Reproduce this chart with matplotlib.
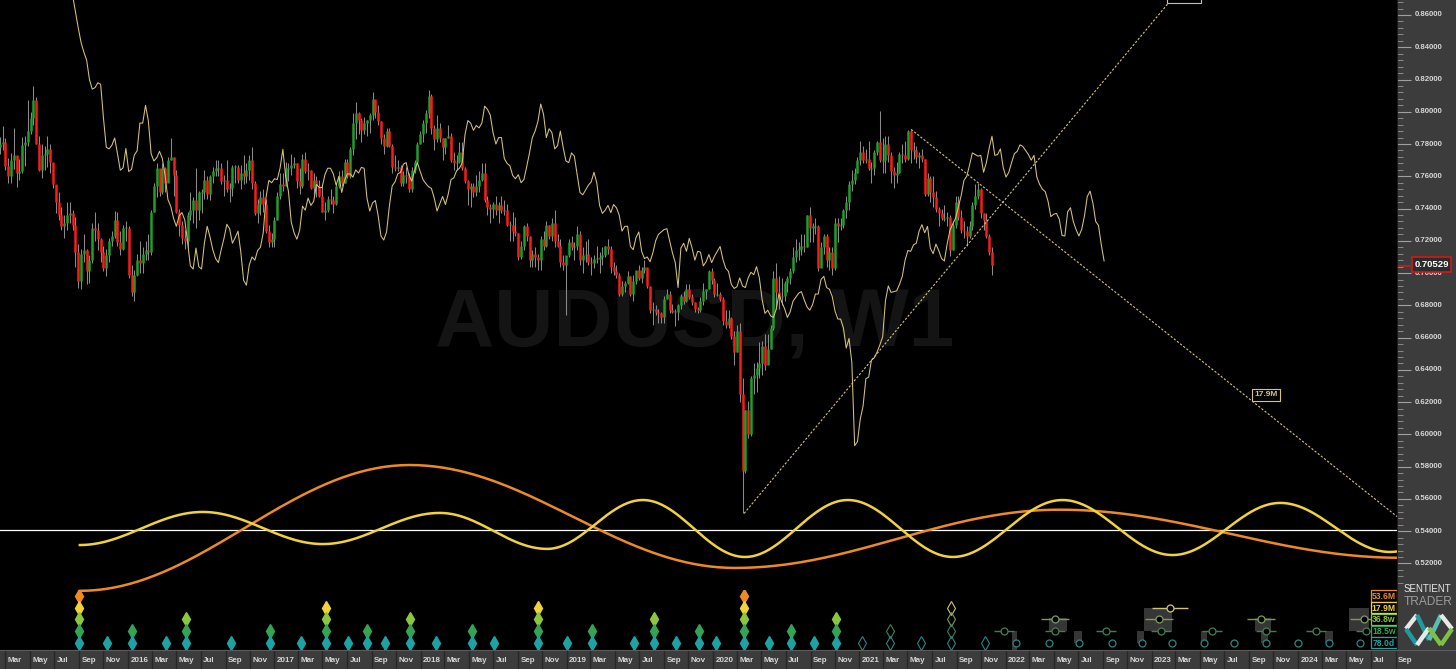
import numpy as np
import pandas as pd
import matplotlib
matplotlib.use("Agg")
import matplotlib.pyplot as plt
import matplotlib.dates as mdates
import matplotlib.transforms as mtransforms
from matplotlib.patches import Rectangle

plt.rcParams["font.family"] = ["Liberation Sans", "DejaVu Sans"]

# ---- AUDUSD weekly bars (bar time = Sunday open), values in pips ----
first_bar = "2015-02-15"
first_open = 7780
highs = [7845, 7910, 7840, 7715, 7745, 7900, 7725, 7705, 7845, 7850, 8070, 8000, 8160, 8090, 7850, 7800, 7790, 7850, 7800, 7680,
         7540, 7500, 7410, 7360, 7440, 7440, 7390, 7350, 7180, 7150, 7240, 7150, 7110, 7310, 7380, 7310, 7220, 7170, 7150, 7220,
         7260, 7385, 7380, 7260, 7300, 7320, 7290, 7050, 7020, 7120, 7200, 7160, 7200, 7240, 7390, 7560, 7680, 7640, 7680, 7660,
         7720, 7835, 7720, 7640, 7400, 7320, 7270, 7380, 7500, 7470, 7650, 7510, 7520, 7640, 7600, 7610, 7660, 7700, 7700, 7680,
         7610, 7700, 7560, 7670, 7670, 7670, 7670, 7730, 7680, 7730, 7780, 7570, 7460, 7510, 7520, 7460, 7300, 7250, 7350, 7500,
         7620, 7620, 7690, 7680, 7740, 7720, 7680, 7650, 7740, 7750, 7680, 7640, 7620, 7600, 7580, 7550, 7440, 7480, 7520, 7480,
         7560, 7630, 7640, 7710, 7710, 7780, 7990, 8060, 8000, 7960, 7970, 7950, 7990, 8120, 8070, 8040, 7940, 7860, 7900, 7900,
         7800, 7730, 7700, 7670, 7630, 7660, 7620, 7660, 7700, 7810, 7880, 7950, 8010, 8136, 8110, 7920, 7980, 7930, 7840, 7840,
         7920, 7870, 7750, 7730, 7810, 7810, 7660, 7580, 7560, 7560, 7610, 7630, 7680, 7680, 7480, 7430, 7440, 7480, 7440, 7480,
         7450, 7430, 7320, 7380, 7350, 7250, 7200, 7300, 7310, 7230, 7140, 7160, 7120, 7230, 7260, 7320, 7300, 7340, 7390, 7240,
         7210, 7110, 7080, 7210, 7230, 7190, 7290, 7260, 7160, 7200, 7210, 7100, 7110, 7170, 7130, 7160, 7170, 7210, 7170, 7070,
         7050, 7000, 6950, 6950, 7010, 6980, 6990, 7010, 7050, 7040, 7080, 7030, 6920, 6820, 6800, 6780, 6760, 6860, 6900, 6890,
         6810, 6780, 6810, 6870, 6890, 6930, 6930, 6870, 6820, 6790, 6850, 6940, 6900, 7020, 7030, 6970, 6940, 6880, 6850, 6770,
         6770, 6730, 6640, 6680, 6690, 6350, 6150, 6210, 6360, 6440, 6450, 6570, 6580, 6620, 6620, 6680, 7010, 7060, 6980, 6970,
         6950, 6980, 7030, 7160, 7210, 7190, 7240, 7240, 7360, 7410, 7310, 7340, 7300, 7190, 7240, 7240, 7160, 7160, 7340, 7340,
         7340, 7400, 7480, 7570, 7640, 7650, 7720, 7820, 7790, 7770, 7820, 7690, 7760, 7820, 8007, 7840, 7850, 7850, 7750, 7660,
         7690, 7750, 7800, 7820, 7890, 7890, 7810, 7790, 7750, 7770, 7710, 7620, 7600, 7600, 7510, 7410, 7400, 7420, 7380, 7360,
         7320, 7480, 7480, 7390, 7320, 7290, 7320, 7440, 7550, 7556, 7530, 7370, 7370, 7240, 7160]
lows = [7740, 7765, 7640, 7560, 7560, 7645, 7535, 7580, 7620, 7665, 7790, 7860, 7920, 7800, 7630, 7590, 7640, 7660, 7620, 7530,
        7370, 7330, 7270, 7220, 7270, 7310, 7270, 7040, 6910, 6900, 7070, 6930, 6940, 7060, 7200, 7140, 7070, 7010, 6980, 7070,
        7170, 7220, 7170, 7110, 7140, 7200, 6970, 6860, 6830, 6980, 7000, 7000, 7080, 7080, 7110, 7380, 7470, 7480, 7490, 7500,
        7580, 7700, 7480, 7370, 7230, 7180, 7150, 7150, 7330, 7310, 7280, 7330, 7370, 7460, 7460, 7450, 7560, 7600, 7600, 7550,
        7480, 7500, 7440, 7480, 7560, 7560, 7520, 7550, 7560, 7580, 7520, 7360, 7310, 7360, 7380, 7250, 7160, 7160, 7160, 7330,
        7460, 7510, 7540, 7570, 7610, 7650, 7530, 7490, 7530, 7620, 7580, 7520, 7490, 7470, 7470, 7380, 7330, 7380, 7430, 7370,
        7420, 7530, 7540, 7560, 7590, 7590, 7730, 7830, 7860, 7810, 7860, 7850, 7870, 7950, 7960, 7920, 7800, 7740, 7780, 7780,
        7620, 7630, 7630, 7540, 7540, 7560, 7500, 7500, 7620, 7680, 7800, 7810, 7870, 7960, 7860, 7760, 7810, 7810, 7700, 7740,
        7840, 7690, 7640, 7640, 7680, 7640, 7560, 7420, 7410, 7470, 7480, 7500, 7570, 7440, 7360, 7310, 7340, 7360, 7310, 7370,
        7360, 7290, 7200, 7200, 7230, 7080, 7090, 7140, 7200, 7040, 7040, 7040, 7020, 7020, 7140, 7160, 7210, 7200, 7160, 7160,
        7040, 7020, 6740, 7100, 7140, 7080, 7140, 7050, 7000, 7070, 7050, 6990, 7030, 7060, 7000, 7050, 7100, 7120, 7000, 6990,
        6970, 6860, 6860, 6880, 6930, 6860, 6830, 6930, 6960, 6940, 7000, 6910, 6750, 6680, 6740, 6690, 6690, 6690, 6840, 6750,
        6750, 6670, 6710, 6780, 6810, 6820, 6840, 6800, 6760, 6750, 6760, 6800, 6840, 6900, 6930, 6850, 6860, 6830, 6680, 6660,
        6660, 6590, 6430, 6510, 6200, 5510, 5760, 5980, 5990, 6250, 6260, 6350, 6370, 6400, 6490, 6530, 6650, 6780, 6780, 6800,
        6830, 6880, 6930, 7000, 7070, 7080, 7110, 7130, 7160, 7190, 7190, 7240, 7010, 7050, 7120, 7040, 7020, 6990, 7020, 7190,
        7270, 7280, 7340, 7390, 7510, 7550, 7620, 7670, 7680, 7680, 7640, 7560, 7610, 7730, 7690, 7620, 7620, 7690, 7560, 7530,
        7560, 7620, 7680, 7690, 7700, 7680, 7710, 7680, 7650, 7690, 7480, 7480, 7440, 7410, 7380, 7290, 7330, 7320, 7290, 7106,
        7140, 7280, 7330, 7250, 7220, 7170, 7220, 7270, 7400, 7460, 7340, 7270, 7220, 7110, 6990]
closes = [7800, 7815, 7665, 7600, 7700, 7735, 7620, 7630, 7795, 7810, 7880, 7960, 8070, 7800, 7640, 7730, 7740, 7770, 7690, 7550,
          7440, 7360, 7290, 7310, 7360, 7370, 7300, 7130, 6950, 7120, 7140, 7010, 7080, 7280, 7270, 7210, 7130, 7030, 7110, 7200,
          7230, 7330, 7190, 7150, 7280, 7280, 6990, 6880, 6990, 7080, 7060, 7120, 7140, 7130, 7380, 7540, 7650, 7500, 7650, 7560,
          7700, 7720, 7610, 7380, 7300, 7220, 7200, 7360, 7390, 7450, 7390, 7500, 7500, 7580, 7490, 7600, 7630, 7650, 7650, 7570,
          7580, 7520, 7530, 7660, 7660, 7580, 7620, 7600, 7640, 7700, 7560, 7370, 7430, 7470, 7430, 7260, 7190, 7210, 7330, 7480,
          7550, 7540, 7650, 7650, 7670, 7680, 7570, 7540, 7710, 7630, 7640, 7530, 7580, 7540, 7480, 7380, 7390, 7460, 7450, 7430,
          7540, 7600, 7560, 7690, 7600, 7770, 7930, 7990, 7950, 7890, 7930, 7950, 7980, 8080, 8000, 7940, 7840, 7790, 7880, 7790,
          7660, 7650, 7660, 7560, 7610, 7600, 7520, 7640, 7690, 7800, 7860, 7930, 7990, 8100, 7900, 7830, 7900, 7840, 7780, 7840,
          7850, 7700, 7680, 7690, 7750, 7650, 7570, 7520, 7540, 7500, 7540, 7580, 7620, 7450, 7410, 7400, 7430, 7390, 7420, 7390,
          7390, 7300, 7300, 7260, 7250, 7100, 7170, 7290, 7230, 7080, 7120, 7100, 7080, 7210, 7170, 7300, 7230, 7310, 7200, 7170,
          7070, 7050, 7110, 7190, 7160, 7170, 7240, 7080, 7110, 7120, 7070, 7060, 7090, 7090, 7100, 7110, 7170, 7150, 7040, 7010,
          6990, 6870, 6920, 6940, 6980, 6870, 6950, 7020, 6970, 7020, 7040, 6920, 6770, 6780, 6760, 6750, 6730, 6840, 6870, 6770,
          6760, 6760, 6800, 6860, 6830, 6900, 6850, 6820, 6780, 6770, 6830, 6890, 6900, 7010, 6960, 6870, 6870, 6840, 6700, 6680,
          6720, 6610, 6510, 6640, 6250, 5770, 6150, 6000, 6350, 6370, 6410, 6440, 6550, 6430, 6530, 6660, 6970, 6880, 6850, 6860,
          6940, 6970, 7010, 7100, 7140, 7150, 7170, 7160, 7360, 7280, 7290, 7290, 7030, 7160, 7230, 7080, 7130, 7030, 7310, 7290,
          7300, 7390, 7440, 7550, 7580, 7620, 7700, 7750, 7700, 7710, 7650, 7650, 7750, 7810, 7700, 7700, 7800, 7730, 7630, 7610,
          7620, 7740, 7730, 7710, 7880, 7760, 7760, 7720, 7730, 7710, 7490, 7590, 7500, 7470, 7400, 7370, 7340, 7340, 7350, 7140,
          7300, 7440, 7350, 7270, 7260, 7230, 7290, 7420, 7480, 7520, 7370, 7330, 7230, 7130, 7053]
# median price of the 15 weeks before the first visible bar (feeds the FLD)
pre_medians = [8800, 8720, 8620, 8520, 8430, 8370, 8320, 8200, 8140, 8150, 8180, 8170, 7960, 7780, 7770]
fld_shift_bars = 40
last_price = 0.70529

# ---- cycle model (turning points) ----
cycle_53m = [("2015-09-03", 0.5030), ("2017-12-05", 0.5810), ("2020-02-25", 0.5172),
             ("2022-05-16", 0.5533), ("2024-09-12", 0.5235)]
cycle_18m = [("2015-09-03", 0.5314), ("2016-07-06", 0.5519), ("2017-05-02", 0.5320), ("2018-02-18", 0.5513),
             ("2018-11-13", 0.5290), ("2019-07-10", 0.5593), ("2020-03-21", 0.5240), ("2020-12-03", 0.5593),
             ("2021-08-22", 0.5240), ("2022-05-23", 0.5593), ("2023-02-22", 0.5252), ("2023-11-18", 0.5575),
             ("2024-08-18", 0.5271), ("2025-05-15", 0.5560)]
level_line = 0.5408

# trend lines (date, price)
rising_line = [("2020-03-19", 0.5510), ("2023-02-17", 0.8690)]
falling_line = [("2021-05-10", 0.7891), ("2024-09-10", 0.5480)]
label_179 = ("2023-10-14", 0.6247, "17.9M")

# ---- trough markers, one row per cycle ----
cycle_names = ["53.6M", "17.9M", "36.8w", "18.5w", "78.0d"]
cycle_colors = ["#ee8a24", "#f2d23a", "#8cc63f", "#34a354", "#1ea3a5"]
hollow_colors = ["#b07a3a", "#cfc27a", "#7a9a5a", "#3f7f58", "#2c8586"]
t_a, t_b, t_c, t_d = "2015-09-02", "2017-05-10", "2018-10-22", "2020-03-19"
troughs = [
    [t_a, t_d],
    [t_a, t_b, t_c, t_d],
    [t_a, "2016-05-26", t_b, "2017-12-06", t_c, "2019-08-07", t_d, "2020-11-04"],
    [t_a, "2016-01-12", "2016-05-26", "2016-12-22", t_b, "2017-08-21", "2017-12-06", "2018-05-10", t_c,
     "2019-03-05", "2019-08-07", "2019-11-28", t_d, "2020-07-14", "2020-11-04"],
    [t_a, "2015-11-11", "2016-01-12", "2016-04-06", "2016-05-26", "2016-09-15", "2016-12-22", "2017-03-09", t_b,
     "2017-07-04", "2017-08-21", "2017-10-05", "2017-12-06", "2018-02-09", "2018-05-10", "2018-07-04", t_c,
     "2019-01-02", "2019-03-05", "2019-06-18", "2019-08-07", "2019-10-01", "2019-11-28", "2020-01-09", t_d,
     "2020-05-20", "2020-07-14", "2020-09-10", "2020-11-04"],
]
open_troughs = [
    [],
    ["2021-08-18"],
    ["2021-08-18"],
    ["2021-03-18", "2021-08-18"],
    ["2021-01-08", "2021-03-18", "2021-06-04", "2021-08-18", "2021-11-11"],
]
projected = [
    [],
    ["2023-02-16"],
    ["2022-05-04", "2023-01-19", "2023-10-01", "2024-06-14"],
    ["2021-12-28", "2022-05-04", "2022-09-09", "2023-01-24", "2023-05-31", "2023-10-13", "2024-02-15", "2024-06-19"],
    ["2022-01-27", "2022-04-19", "2022-07-03", "2022-09-24", "2022-12-08", "2023-02-20", "2023-05-11",
     "2023-07-25", "2023-10-13", "2024-01-01", "2024-03-18", "2024-06-04"],
]
projected_halfwidth_days = [0, 45, 35, 25, 6]
projection_boxes = [("2022-01-16", "2022-01-29", 3, 4.6), ("2022-04-19", "2022-06-03", 1.9, 3),
                    ("2022-06-20", "2022-07-10", 3, 4), ("2022-11-26", "2022-12-13", 3, 4),
                    ("2022-12-13", "2023-02-20", 1, 3), ("2023-05-03", "2023-05-18", 3, 4),
                    ("2023-09-17", "2023-10-27", 1.9, 3), ("2023-10-01", "2023-10-18", 3, 4),
                    ("2024-03-08", "2024-03-28", 3, 4), ("2024-05-07", "2024-06-26", 1, 3)]
last_date_label = "2024-09-01"

# ---- styling ----
W, H = 1456, 669
PANEL = "#3c3c3c"
TXT = "#d6d6d6"
KHAKI = "#d6c47c"
UP, DOWN, WICK = "#1f9f2a", "#ff1a1a", "#8a8a8a"


def dn(s):
    return mdates.date2num(pd.Timestamp(s))


px_days = 365.25 / 146.25
x0 = dn("2015-02-15 14:00")
ymin, ymax = 0.86 - 635 / 1613, 0.86 + 15 / 1613

fig = plt.figure(figsize=(W / 100, H / 100), dpi=100, facecolor=PANEL)
ax = fig.add_axes([0, 19 / H, 1397 / W, 650 / H])
ax.set_facecolor("black")
ax.set_xlim(x0, x0 + 1397 * px_days)
ax.set_ylim(ymin, ymax)
ax.set_xticks([])
ax.set_yticks([])
for s in ax.spines.values():
    s.set_visible(False)

# watermark
ax.text(695 / 1397, 1 - 345 / 650, "AUDUSD, W1", transform=ax.transAxes, fontsize=59,
        fontweight="bold", color="#141414", ha="center", va="baseline", zorder=0)

# horizontal level and cycle waves
ax.axhline(level_line, color="white", lw=0.9, zorder=1.5)


def wave(points, n=80):
    xs, ys = [], []
    for (d0, v0), (d1, v1) in zip(points[:-1], points[1:]):
        t = np.linspace(0, 1, n)
        xs.append(dn(d0) + (dn(d1) - dn(d0)) * t)
        ys.append(v0 + (v1 - v0) * (1 - np.cos(np.pi * t)) / 2)
    return np.concatenate(xs), np.concatenate(ys)


wx, wy = wave(cycle_53m)
ax.plot(wx, wy, color=cycle_colors[0], lw=1.8, zorder=2)
wx, wy = wave(cycle_18m)
ax.plot(wx, wy, color=cycle_colors[1], lw=1.8, zorder=2.1)

# candles
hi = np.array(highs) / 1e4
lo = np.array(lows) / 1e4
cl = np.array(closes) / 1e4
op = np.concatenate([[first_open / 1e4], cl[:-1]])
bar_dates = pd.date_range(first_bar, periods=len(cl), freq="7D")
bx = mdates.date2num(bar_dates)
ax.vlines(bx, lo, hi, color=WICK, lw=0.75, zorder=3)
b_lo = np.minimum(op, cl)
b_hi = np.maximum(op, cl)
flat = (b_hi - b_lo) < 0.0006
b_lo = np.where(flat, b_lo - 0.0003, b_lo)
b_hi = np.where(flat, b_hi + 0.0003, b_hi)
colors = np.where(cl >= op, UP, DOWN)
ax.vlines(bx, b_lo, b_hi, colors=colors, lw=1.8, zorder=3.2)

# FLD: median price displaced forward
med = np.concatenate([np.array(pre_medians) / 1e4, (hi + lo) / 2])
fld_dates = pd.date_range(pd.Timestamp(first_bar) - pd.Timedelta(weeks=len(pre_medians)),
                          periods=len(med), freq="7D") + pd.Timedelta(weeks=fld_shift_bars)
ax.plot(mdates.date2num(fld_dates), med, color=KHAKI, lw=0.75, zorder=3.5)

# trend lines and labels
for line in (rising_line, falling_line):
    ax.plot([dn(d) for d, _ in line], [v for _, v in line], color=KHAKI, lw=0.8,
            ls=(0, (2, 1.6)), zorder=4)
ax.text(dn(label_179[0]), label_179[1], label_179[2], color=KHAKI, fontsize=6, fontweight="bold",
        ha="center", va="center", zorder=5,
        bbox=dict(boxstyle="square,pad=0.3", fc="black", ec=KHAKI, lw=0.8))
ax.add_patch(Rectangle((dn("2023-02-08"), 0.8675), 85, 0.02, fc="black", ec=KHAKI, lw=0.8,
                       zorder=5, clip_on=False))

# ---- trough marker strip ----
mk = fig.add_axes([0, 19 / H, 1397 / W, 60 / H])
mk.set_xlim(ax.get_xlim())
mk.set_ylim(4.6, -0.51)
mk.set_axis_off()

for (d0, d1, r0, r1) in projection_boxes:
    mk.add_patch(Rectangle((dn(d0), r0), dn(d1) - dn(d0), r1 - r0, fc="#363636", ec="none", zorder=1))

for i in range(5):
    xs = [dn(d) for d in troughs[i]]
    mk.plot(xs, [i] * len(xs), ls="none", marker="d", ms=7, color=cycle_colors[i], zorder=3)
    xs = [dn(d) for d in open_troughs[i]]
    mk.plot(xs, [i] * len(xs), ls="none", marker="d", ms=7.5, mfc="none", mec=hollow_colors[i],
            mew=0.8, zorder=3)
    xs = [dn(d) for d in projected[i]]
    hw = projected_halfwidth_days[i]
    mk.hlines([i] * len(xs), [x - hw for x in xs], [x + hw for x in xs], color=hollow_colors[i],
              lw=1.0, zorder=2)
    mk.plot(xs, [i] * len(xs), ls="none", marker="o", ms=5, mfc="black", mec=hollow_colors[i],
            mew=0.9, zorder=3)
    # legend box
    bx0 = x0 + 1371 * px_days
    mk.add_patch(Rectangle((bx0, i - 0.47), 26 * px_days, 0.94, fc="black", ec=cycle_colors[i],
                           lw=0.9, zorder=5, clip_on=False))
    mk.text(bx0 + 13 * px_days, i + 0.03, cycle_names[i], color=cycle_colors[i], fontsize=6.2,
            fontweight="bold", ha="center", va="center", zorder=6)

# ---- right price scale ----
sc = fig.add_axes([1397 / W, 19 / H, 59 / W, 650 / H])
sc.set_facecolor(PANEL)
sc.set_ylim(ymin, ymax)
sc.set_xlim(0, 1)
sc.set_xticks([])
major = np.round(np.arange(0.52, 0.8601, 0.02), 3)
sc.set_yticks(major)
sc.set_yticks(np.round(np.arange(0.508, 0.869, 0.004), 3), minor=True)
sc.tick_params(axis="y", which="major", direction="in", length=10, width=0.8, color="#a0a0a0",
               labelleft=False)
sc.tick_params(axis="y", which="minor", direction="in", length=4, width=0.7, color="#8a8a8a")
for s in ("top", "right", "bottom"):
    sc.spines[s].set_visible(False)
sc.spines["left"].set_color("#1c1c1c")
ytr = sc.get_yaxis_transform()
for v in major:
    sc.text(0.30, v, f"{v:.5f}", transform=ytr, fontsize=5.6, fontweight="bold", color=TXT,
            ha="left", va="center")
# current price tag
sc.plot([0, 0.22], [last_price - 0.0006] * 2, transform=ytr, color="#d01818", lw=1.2)
sc.text(0.585, last_price, f"{last_price:.5f}", transform=ytr, fontsize=6.8, fontweight="bold",
        color="white", ha="center", va="center", zorder=5,
        bbox=dict(boxstyle="square,pad=0.28", fc="#2c2c2c", ec="#d01818", lw=1.2))

# logo
fig.text(1427 / W, 1 - 589 / H, "SENTIENT", fontsize=7, color="#e8e8e8", ha="center", va="center")
fig.text(1428 / W, 1 - 602 / H, "TRADER", fontsize=8.6, color="#9c9c9c", ha="center", va="center")
logo = [((1406, 629), (1417, 615), "#e8e8e8"), ((1417, 615), (1429, 640), "#1e9aa0"),
        ((1406, 629), (1417, 645), "#1e9aa0"), ((1429, 640), (1441, 615), "#58c0b0"),
        ((1441, 615), (1452, 629), "#e8e8e8"), ((1441, 645), (1452, 629), "#7cc243"),
        ((1417, 645), (1429, 628), "#e8e8e8"), ((1429, 628), (1441, 645), "#7cc243")]
for (xa, ra), (xb, rb), c in logo:
    fig.add_artist(plt.Line2D([xa / W, xb / W], [1 - ra / H, 1 - rb / H], color=c, lw=3.2,
                              solid_capstyle="butt", transform=fig.transFigure))

# ---- date strip ----
dt = fig.add_axes([0, 0, 1, 19 / H])
dt.set_facecolor(PANEL)
dt.set_xlim(x0, x0 + W * px_days)
dt.set_ylim(0, 1)
dt.set_xticks([])
dt.set_yticks([])
for s in ("left", "right", "bottom"):
    dt.spines[s].set_visible(False)
dt.spines["top"].set_color("#5c5c5c")
lab_tr = mtransforms.offset_copy(mtransforms.blended_transform_factory(dt.transData, dt.transAxes),
                                 fig=fig, x=2.5, y=0, units="dots")
for m in pd.date_range("2015-01-01", last_date_label, freq="2MS"):
    xm = dn(m)
    if xm < x0:
        continue
    dt.axvline(xm, color="#272727", lw=1.0)
    lab = str(m.year) if m.month == 1 else m.strftime("%b")
    dt.text(xm, 0.45, lab, transform=lab_tr, fontsize=5.8, fontweight="bold", color=TXT,
            ha="left", va="center")

fig.savefig("out.png", dpi=100, facecolor=PANEL)
